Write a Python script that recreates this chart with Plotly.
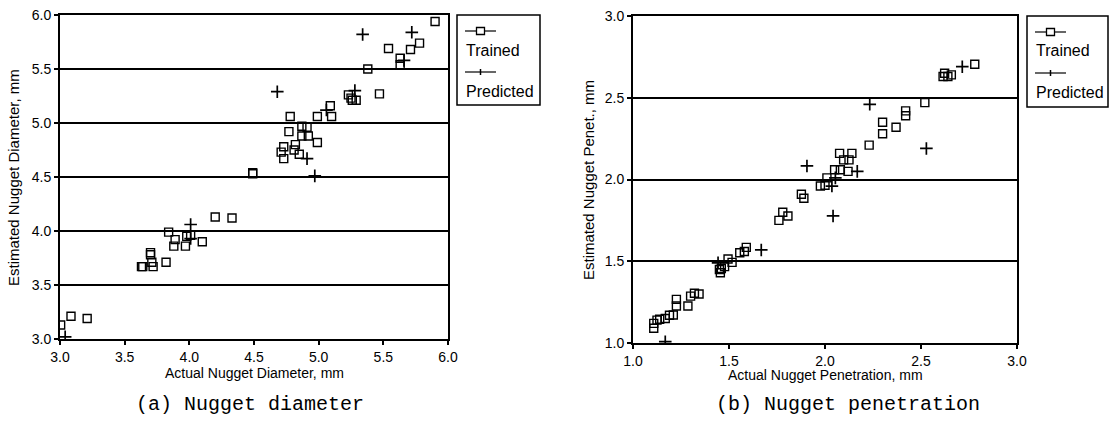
import plotly.graph_objects as go

W, H = 1110, 424

# ---------------- data ----------------
diam_trained_x = [5.90, 5.54, 5.71, 5.78, 5.63, 5.63, 5.38, 5.23, 5.26, 5.25, 5.29, 5.47, 5.09,
                  4.78, 4.99, 5.10, 4.87, 4.91, 4.77, 4.87, 4.92, 4.99, 4.73, 4.82, 4.71, 4.81,
                  4.85, 4.73, 4.49, 4.49,
                  3.005, 3.085, 3.21, 3.63, 3.64, 3.70, 3.70, 3.71, 3.72, 3.82, 3.84, 3.89, 3.88,
                  3.97, 3.98, 4.01, 4.10, 4.20, 4.33]
diam_trained_y = [5.94, 5.69, 5.68, 5.74, 5.60, 5.54, 5.50, 5.26, 5.21, 5.23, 5.21, 5.27, 5.16,
                  5.06, 5.06, 5.06, 4.97, 4.96, 4.92, 4.88, 4.88, 4.82, 4.78, 4.80, 4.73, 4.75,
                  4.71, 4.67, 4.54, 4.53,
                  3.13, 3.21, 3.19, 3.67, 3.67, 3.80, 3.78, 3.71, 3.67, 3.71, 3.99, 3.92, 3.86,
                  3.86, 3.95, 3.96, 3.90, 4.13, 4.12]
diam_pred_x = [5.34, 5.72, 5.66, 4.68, 5.28, 5.06, 4.91, 4.97, 4.01, 4.01, 3.04]
diam_pred_y = [5.82, 5.84, 5.58, 5.29, 5.30, 5.12, 4.67, 4.51, 4.06, 3.93, 3.02]

pen_trained_x = [2.78, 2.623, 2.64, 2.615, 2.658, 2.52, 2.42, 2.42, 2.30, 2.30, 2.37, 2.23,
                 2.076, 2.14, 2.097, 2.125, 2.05, 2.08, 2.12, 2.01, 1.976, 2.00, 1.877, 1.89,
                 1.78, 1.807, 1.76, 1.59, 1.58, 1.556, 1.495, 1.516, 1.477, 1.46, 1.455, 1.45,
                 1.32, 1.344, 1.30, 1.226, 1.226, 1.286, 1.21, 1.19, 1.168, 1.139, 1.125,
                 1.108, 1.108]
pen_trained_y = [2.705, 2.65, 2.63, 2.63, 2.64, 2.47, 2.42, 2.39, 2.35, 2.28, 2.32, 2.21,
                 2.16, 2.16, 2.12, 2.12, 2.06, 2.06, 2.05, 2.01, 1.96, 1.965, 1.91, 1.885,
                 1.80, 1.777, 1.75, 1.585, 1.56, 1.552, 1.514, 1.493, 1.467, 1.456, 1.43, 1.45,
                 1.304, 1.30, 1.287, 1.267, 1.226, 1.226, 1.171, 1.17, 1.15, 1.145, 1.14,
                 1.12, 1.09]
pen_pred_x = [2.715, 2.233, 2.528, 1.906, 2.168, 2.054, 2.036, 2.042, 1.668, 1.443, 1.168]
pen_pred_y = [2.69, 2.46, 2.19, 2.083, 2.05, 2.01, 1.96, 1.777, 1.569, 1.49, 1.008]

diam_ticks = [3.0, 3.5, 4.0, 4.5, 5.0, 5.5, 6.0]
pen_ticks = [1.0, 1.5, 2.0, 2.5, 3.0]
diam_ticktext = ["3.0", "3.5", "4.0", "4.5", "5.0", "5.5", "6.0"]
pen_ticktext = ["1.0", "1.5", "2.0", "2.5", "3.0"]

series_names = ["Trained", "Predicted"]
captions = ["(a) Nugget diameter", "(b) Nugget penetration"]
x_titles = ["Actual Nugget Diameter, mm", "Actual Nugget Penetration, mm"]
y_titles = ["Estimated Nugget Diameter, mm", "Estimated Nugget Penet., mm"]

# ---------------- figure ----------------
FONT = "Liberation Sans, Arial, sans-serif"


def px(x):
    return x / W


def py(y):
    return 1 - y / H


fig = go.Figure()

sq = dict(symbol="square-open", size=8, color="black", line=dict(width=1.4, color="black"))
cr = dict(symbol="cross-thin-open", size=9, color="black", line=dict(width=1.7, color="black"))

fig.add_trace(go.Scatter(x=diam_trained_x, y=diam_trained_y, mode="markers", marker=sq,
                         name=series_names[0], xaxis="x", yaxis="y", showlegend=False))
fig.add_trace(go.Scatter(x=diam_pred_x, y=diam_pred_y, mode="markers", marker=cr,
                         name=series_names[1], xaxis="x", yaxis="y", showlegend=False))
fig.add_trace(go.Scatter(x=pen_trained_x, y=pen_trained_y, mode="markers", marker=sq,
                         name=series_names[0], xaxis="x2", yaxis="y2", showlegend=False))
fig.add_trace(go.Scatter(x=pen_pred_x, y=pen_pred_y, mode="markers", marker=cr,
                         name=series_names[1], xaxis="x2", yaxis="y2", showlegend=False))

axis_common = dict(
    showline=True, linecolor="black", linewidth=2, mirror=True,
    ticks="outside", ticklen=4, tickwidth=1.5, tickcolor="black",
    tickfont=dict(family=FONT, size=14, color="black"),
    zeroline=False, automargin=False,
)

fig.update_layout(
    width=W, height=H,
    autosize=False,
    margin=dict(l=0, r=0, t=0, b=0, pad=0, autoexpand=False),
    paper_bgcolor="white", plot_bgcolor="white",
    showlegend=False,
    xaxis=dict(domain=[px(60), px(448)], range=[3.0, 6.0], tickvals=diam_ticks,
               ticktext=diam_ticktext, showgrid=False, anchor="y", **axis_common),
    yaxis=dict(domain=[py(339), py(15)], range=[3.0, 6.0], tickvals=diam_ticks,
               ticktext=diam_ticktext, showgrid=True, gridcolor="black", gridwidth=1.5,
               anchor="x", **axis_common),
    xaxis2=dict(domain=[px(633), px(1017)], range=[1.0, 3.0], tickvals=pen_ticks,
                ticktext=pen_ticktext, showgrid=False, anchor="y2", **axis_common),
    yaxis2=dict(domain=[py(343), py(16)], range=[1.0, 3.0], tickvals=pen_ticks,
                ticktext=pen_ticktext, showgrid=True, gridcolor="black", gridwidth=1.5,
                anchor="x2", **axis_common),
)

annotations = []
shapes = []

# axis titles
for (cx, cy, txt) in [(254, 373, x_titles[0]), (825, 375, x_titles[1])]:
    annotations.append(dict(x=px(cx), y=py(cy), xref="paper", yref="paper", text=txt,
                            showarrow=False, xanchor="center", yanchor="middle",
                            font=dict(family=FONT, size=14, color="black")))
for (cx, cy, txt) in [(14, 178, y_titles[0]), (588, 180, y_titles[1])]:
    annotations.append(dict(x=px(cx), y=py(cy), xref="paper", yref="paper", text=txt,
                            showarrow=False, xanchor="center", yanchor="middle", textangle=-90,
                            font=dict(family=FONT, size=15, color="black")))

# captions
for (cx, txt) in [(250, captions[0]), (848, captions[1])]:
    annotations.append(dict(x=px(cx), y=py(404), xref="paper", yref="paper", text=txt,
                            showarrow=False, xanchor="center", yanchor="middle",
                            font=dict(family="Liberation Mono, Courier New, monospace",
                                      size=20, color="black")))

# custom legends (symbol row above text row)
for (bx0, by0, bx1, by1) in [(457, 15, 540, 105), (1027, 16, 1108, 107)]:
    shapes.append(dict(type="rect", xref="paper", yref="paper",
                       x0=px(bx0), x1=px(bx1), y0=py(by1), y1=py(by0),
                       line=dict(color="black", width=1.5), fillcolor="white"))
    lx0, lx1 = bx0 + 8, bx0 + 39
    mx = (lx0 + lx1) / 2
    # Trained symbol
    sy = by0 + 16
    shapes.append(dict(type="line", xref="paper", yref="paper", x0=px(lx0), x1=px(lx1),
                       y0=py(sy), y1=py(sy), line=dict(color="black", width=1.2)))
    shapes.append(dict(type="rect", xref="paper", yref="paper", x0=px(mx - 4), x1=px(mx + 4),
                       y0=py(sy + 3.5), y1=py(sy - 3.5), line=dict(color="black", width=1.3),
                       fillcolor="white"))
    annotations.append(dict(x=px(lx0 - 1), y=py(by0 + 35), xref="paper", yref="paper",
                            text=series_names[0], showarrow=False, xanchor="left",
                            yanchor="middle", font=dict(family=FONT, size=16, color="black")))
    # Predicted symbol
    sy2 = by0 + 57
    shapes.append(dict(type="line", xref="paper", yref="paper", x0=px(lx0), x1=px(lx1),
                       y0=py(sy2), y1=py(sy2), line=dict(color="black", width=1.2)))
    shapes.append(dict(type="line", xref="paper", yref="paper", x0=px(mx), x1=px(mx),
                       y0=py(sy2 - 3), y1=py(sy2 + 3), line=dict(color="black", width=1.5)))
    annotations.append(dict(x=px(lx0 - 1), y=py(by0 + 76), xref="paper", yref="paper",
                            text=series_names[1], showarrow=False, xanchor="left",
                            yanchor="middle", font=dict(family=FONT, size=16, color="black")))

fig.update_layout(annotations=annotations, shapes=shapes)

fig.write_html("out.html")
